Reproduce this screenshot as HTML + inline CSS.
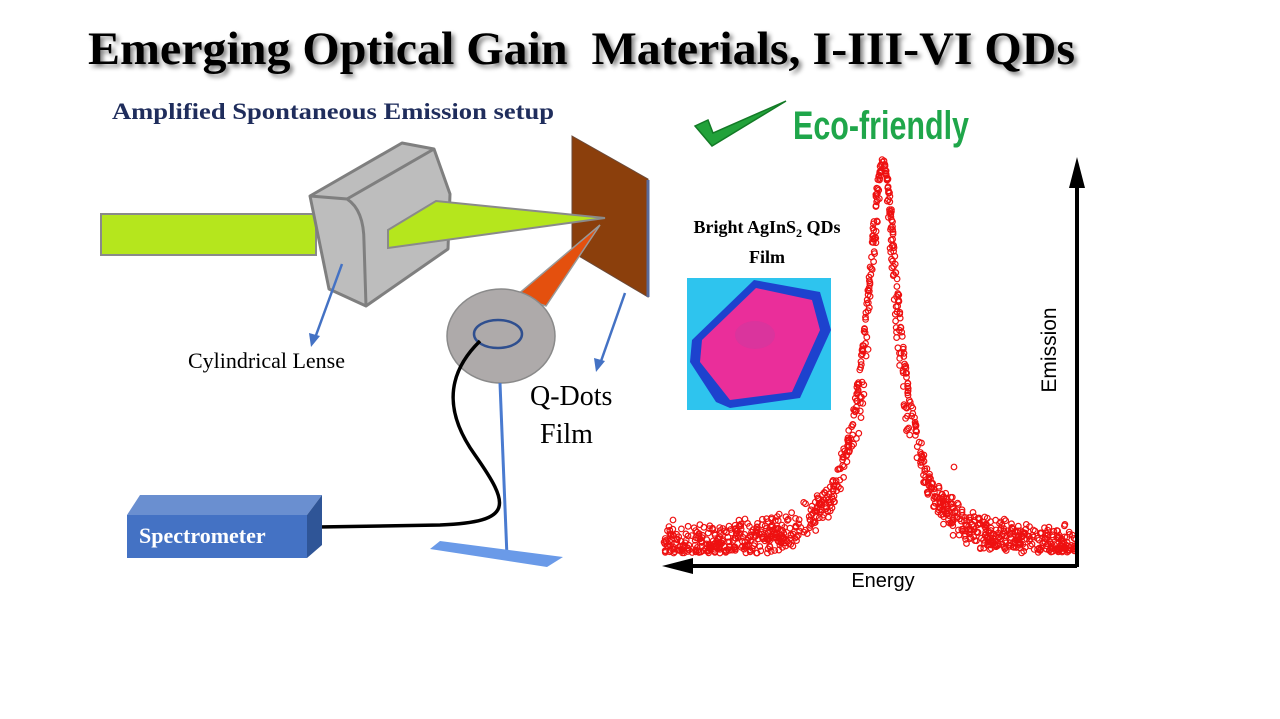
<!DOCTYPE html>
<html><head><meta charset="utf-8"><style>
html,body{margin:0;padding:0;background:#fff;}
svg{display:block;}
</style></head><body>
<svg id="s" width="1280" height="719" viewBox="0 0 1280 719" xmlns="http://www.w3.org/2000/svg">
<defs>
<filter id="sh" x="-5%" y="-20%" width="110%" height="150%"><feGaussianBlur in="SourceAlpha" stdDeviation="2.5"/><feOffset dx="3" dy="3"/><feComponentTransfer><feFuncA type="linear" slope="0.5"/></feComponentTransfer><feMerge><feMergeNode/><feMergeNode in="SourceGraphic"/></feMerge></filter>
</defs>
<text x="88" y="64" font-family="Liberation Serif, serif" font-weight="bold" font-size="47" textLength="987" lengthAdjust="spacingAndGlyphs" filter="url(#sh)" xml:space="preserve">Emerging Optical Gain  Materials, I-III-VI QDs</text>
<text x="112" y="119" font-family="Liberation Serif, serif" font-weight="bold" font-size="23" fill="#1f2d5c" textLength="442" lengthAdjust="spacingAndGlyphs">Amplified Spontaneous Emission setup</text>

<!-- beam -->
<rect x="101" y="214" width="215" height="41" fill="#b5e61d" stroke="#8a8a8a" stroke-width="2"/>
<!-- lens -->
<polygon points="310,196 402,143 434,149 450,194 448,249 366,306 329,289" fill="#bdbdbd" stroke="#7f7f7f" stroke-width="3" stroke-linejoin="round"/>
<path d="M310,196 L347,199 Q364,210 364,242 L366,306" fill="none" stroke="#7f7f7f" stroke-width="3"/>
<line x1="347" y1="199" x2="434" y2="149" stroke="#7f7f7f" stroke-width="3"/>
<!-- plate -->
<polygon points="572,136 648,179 648,297 572,252" fill="#8b3f0c" stroke="#6b4a3a" stroke-width="1"/>
<line x1="648" y1="180" x2="648" y2="297" stroke="#5a6a9a" stroke-width="3"/>
<!-- green triangle -->
<polygon points="388,230 436,201 605,218 388,248" fill="#b5e61d" stroke="#8a8a8a" stroke-width="2"/>
<!-- orange cone -->
<polygon points="516,296 546,306 600,225" fill="#e4500e" stroke="#999" stroke-width="1.5"/>
<!-- disk -->
<ellipse cx="501" cy="336" rx="54" ry="47" fill="#aeaaaa" stroke="#8a8a8a" stroke-width="1.5"/>
<ellipse cx="498" cy="334" rx="24" ry="14" fill="none" stroke="#2f4f8f" stroke-width="2.5"/>
<!-- stand -->
<line x1="500" y1="383" x2="507" y2="557" stroke="#4a7bd0" stroke-width="3"/>
<polygon points="440,541 563,557 547,567 430,549" fill="#6a9ae8"/>
<!-- cable -->
<path d="M480,341 C440,380 450,420 475,455 C510,505 515,522 440,525 L318,527" fill="none" stroke="#000" stroke-width="3.5"/>
<!-- spectrometer -->
<polygon points="127,515 140,495 322,495 307,515" fill="#6a8fd0"/>
<polygon points="307,515 322,495 322,545 307,558" fill="#2f5597"/>
<rect x="127" y="515" width="180" height="43" fill="#4472c4"/>
<text x="139" y="543" font-family="Liberation Serif, serif" font-weight="bold" font-size="22" fill="#fff">Spectrometer</text>
<!-- pointer arrows -->
<g stroke="#4472c4" stroke-width="2.5" fill="#4472c4">
<line x1="342" y1="264" x2="315" y2="338"/><polygon points="311,347 309,333 320,336" stroke="none"/>
<line x1="625" y1="293" x2="600" y2="364"/><polygon points="596,372 594,358 605,361" stroke="none"/>
</g>
<text x="188" y="368" font-family="Liberation Serif, serif" font-size="22">Cylindrical Lense</text>
<text x="530" y="405" font-family="Liberation Serif, serif" font-size="28">Q-Dots</text>
<text x="540" y="443" font-family="Liberation Serif, serif" font-size="28">Film</text>

<!-- checkmark & eco -->
<polygon points="695,126 708,120 713,133 786,101 712,146" fill="#22a23a" stroke="#137a26" stroke-width="1.5"/>
<text x="793" y="139" font-family="Liberation Sans Narrow, Liberation Sans, sans-serif" font-weight="bold" font-size="40" fill="#1fa64a" textLength="176" lengthAdjust="spacingAndGlyphs">Eco-friendly</text>

<!-- film label -->
<text x="767" y="233" text-anchor="middle" font-family="Liberation Serif, serif" font-weight="bold" font-size="18">Bright AgInS<tspan font-size="12" dy="4">2</tspan><tspan dy="-4"> QDs</tspan></text>
<text x="767" y="263" text-anchor="middle" font-family="Liberation Serif, serif" font-weight="bold" font-size="18">Film</text>
<!-- photo -->
<rect x="687" y="278" width="144" height="132" fill="#2ec4ee"/>
<polygon points="754,280 820,292 831,330 800,398 730,408 716,402 690,362 692,340" fill="#1a2cc8" opacity="0.85"/>
<polygon points="756,288 812,300 820,330 792,392 730,400 700,362 702,340" fill="#ea2e9a"/>
<ellipse cx="755" cy="335" rx="20" ry="14" fill="#c93aa0" opacity="0.5"/>

<!-- axes -->
<g id="pts" fill="none" stroke="#ee1111" stroke-width="1.2"></g>
<line x1="1077" y1="185" x2="1077" y2="567" stroke="#000" stroke-width="4"/>
<polygon points="1077,157 1069,188 1085,188" fill="#000"/>
<line x1="690" y1="566" x2="1077" y2="566" stroke="#000" stroke-width="4"/>
<polygon points="662,566 693,558 693,574" fill="#000"/>
<text x="883" y="587" text-anchor="middle" font-family="Liberation Sans, sans-serif" font-size="20">Energy</text>
<text transform="translate(1056,350) rotate(-90)" text-anchor="middle" font-family="Liberation Sans, sans-serif" font-size="21">Emission</text>
</svg>
<script>
(function(){
var g=document.getElementById('pts');var seed=12345;
function r(){seed=(seed*1103515245+12345)%2147483648;return seed/2147483648;}
var out='';
for(var i=0;i<1000;i++){
 var x=664+r()*412;
 var dx=(x-883)/21;var y=548-385/(1+dx*dx);
 var ax=Math.abs(x-883);
 var n=ax<25?10:26;
 y+= (r()-0.5)*n + (r()-0.5)*n*0.6;
 if(y>553)y=553-r()*5;
 out+='<circle cx="'+x.toFixed(1)+'" cy="'+y.toFixed(1)+'" r="2.8"/>';
}
for(var j=0;j<100;j++){var yy=165+r()*280;var h=(385/(548-yy)-1);var d=Math.sqrt(Math.max(h,0))*21*0.8;var s=r()<0.5?-1:1;out+='<circle cx="'+(883+s*d+(r()-0.5)*4).toFixed(1)+'" cy="'+yy.toFixed(1)+'" r="2.8"/>';}
out+='<circle cx="954" cy="467" r="2.8"/><circle cx="745" cy="519" r="2.8"/><circle cx="673" cy="520" r="2.8"/><circle cx="1035" cy="531" r="2.8"/>';
g.innerHTML=out;
})();
</script>
</body></html>
